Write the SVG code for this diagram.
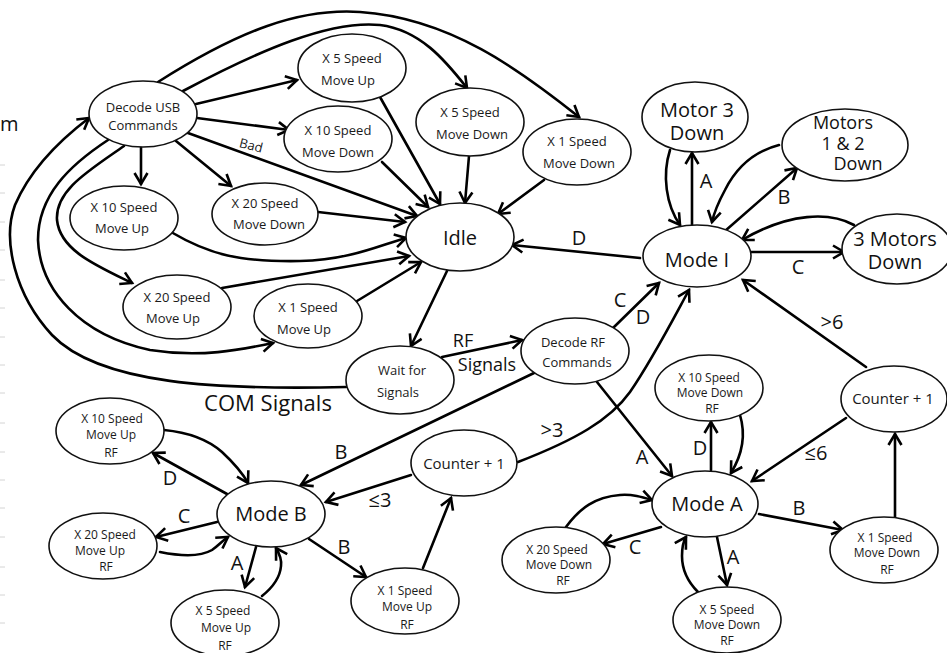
<svg xmlns="http://www.w3.org/2000/svg" width="947" height="653" viewBox="0 0 947 653">
<style>
.n{fill:#fff;stroke:#111;stroke-width:1.6}
.t{font-family:"Open Sans","Noto Sans",sans-serif;font-size:13px;fill:#1a1a1a;text-anchor:middle}
.r{font-family:"Open Sans","Noto Sans",sans-serif;font-size:12px;fill:#1a1a1a;text-anchor:middle}
.m{font-family:"Open Sans","Noto Sans",sans-serif;font-size:20px;fill:#111;text-anchor:middle}
.l{font-family:"Open Sans","Noto Sans",sans-serif;font-size:20px;fill:#111;text-anchor:middle}
.e{fill:none;stroke:#000;stroke-width:2.6;stroke-linecap:round;marker-end:url(#ah)}
.g{stroke:#d4d4d4;stroke-width:1}
</style>
<defs>
<marker id="ah" markerUnits="userSpaceOnUse" viewBox="0 0 16 16" markerWidth="16" markerHeight="16" refX="13" refY="8" orient="auto">
<path d="M2,1.5 L13,8 L2,14.5" fill="none" stroke="#000" stroke-width="2.6"/>
</marker>
</defs>
<rect width="947" height="653" fill="#fff"/>
<g id="edge-marks">
<line class="g" x1="0" y1="165" x2="5" y2="165"/><line class="g" x1="0" y1="193" x2="5" y2="193"/>
<line class="g" x1="0" y1="222" x2="5" y2="222"/><line class="g" x1="0" y1="250" x2="5" y2="250"/>
<line class="g" x1="0" y1="280" x2="5" y2="280"/><line class="g" x1="0" y1="308" x2="5" y2="308"/>
<line class="g" x1="0" y1="337" x2="5" y2="337"/><line class="g" x1="0" y1="365" x2="5" y2="365"/>
<line class="g" x1="0" y1="393" x2="5" y2="393"/><line class="g" x1="0" y1="423" x2="5" y2="423"/>
<line class="g" x1="0" y1="452" x2="5" y2="452"/><line class="g" x1="0" y1="480" x2="5" y2="480"/>
<line class="g" x1="0" y1="508" x2="5" y2="508"/><line class="g" x1="0" y1="537" x2="5" y2="537"/>
<line class="g" x1="0" y1="567" x2="5" y2="567"/><line class="g" x1="0" y1="595" x2="5" y2="595"/>
<line class="g" x1="0" y1="623" x2="5" y2="623"/>
</g>
<text x="0" y="131" class="l" style="text-anchor:start">m</text>
<g id="connectors">
<path class="e" d="M196,104 L297,80"/>
<path class="e" d="M197,118 L289,130"/>
<path class="e" d="M188,133 L417,216"/>
<path class="e" d="M141,147 L141,184"/>
<path class="e" d="M176,141 L231,186"/>
<path class="e" d="M183,91 C260,50 330,20 380,25 C420,30 445,60 467,88"/>
<path class="e" d="M158,82 C240,30 300,8 360,12 C450,18 520,70 579,117"/>
<path class="e" d="M124,146 C90,170 55,190 57,220 C60,250 95,265 132,283"/>
<path class="e" d="M108,140 C70,165 38,195 38,240 C40,290 80,335 150,350 C200,358 240,350 273,343"/>
<path class="e" d="M346,387 C220,390 100,385 52,335 C15,295 2,240 15,205 C30,170 60,140 89,118"/>
<path class="e" d="M380,97 L440,204"/>
<path class="e" d="M382,162 L428,207"/>
<path class="e" d="M469,156 L465,203"/>
<path class="e" d="M544,180 L498,214"/>
<path class="e" d="M318,212 L405,222"/>
<path class="e" d="M171,232 C210,255 240,262 300,261 C350,260 380,245 406,238"/>
<path class="e" d="M222,288 L409,256"/>
<path class="e" d="M357,301 L421,262"/>
<path class="e" d="M640,258 L512,245"/>
<path class="e" d="M447,271 L411,346"/>
<path class="e" d="M442,357 L522,340"/>
<path class="e" d="M692,225 L692,153"/>
<path class="e" d="M670,150 C662,175 666,205 680,225"/>
<path class="e" d="M725,231 L797,168"/>
<path class="e" d="M779,145 C752,152 735,170 725,190 C718,203 714,213 712,222"/>
<path class="e" d="M751,252 L844,252"/>
<path class="e" d="M854,225 C830,212 790,212 742,240"/>
<path class="e" d="M613,328 L659,283"/>
<path class="e" d="M518,462 C575,440 610,420 630,392 C652,360 670,325 689,290"/>
<path class="e" d="M866,367 L743,280"/>
<path class="e" d="M534,373 L301,485"/>
<path class="e" d="M597,382 L672,476"/>
<path class="e" d="M711,470 L711,422"/>
<path class="e" d="M740,415 C746,435 742,455 731,473"/>
<path class="e" d="M846,418 L752,481"/>
<path class="e" d="M895,517 L895,434"/>
<path class="e" d="M759,514 L843,530"/>
<path class="e" d="M661,527 L603,544"/>
<path class="e" d="M566,527 C580,508 595,497 620,495 C632,494 642,497 652,500"/>
<path class="e" d="M717,537 L727,585"/>
<path class="e" d="M698,592 C688,582 682,570 682,556 C682,549 683,542 686,537"/>
<path class="e" d="M227,494 L153,453"/>
<path class="e" d="M164,430 C185,432 205,437 222,452 C236,465 243,474 248,483"/>
<path class="e" d="M217,522 L156,537"/>
<path class="e" d="M160,552 C180,556 200,557 212,550 C218,546 222,541 228,537"/>
<path class="e" d="M256,547 L245,587"/>
<path class="e" d="M262,596 C272,588 280,578 281,566 C282,559 279,553 276,548"/>
<path class="e" d="M309,539 L366,577"/>
<path class="e" d="M423,568 L451,498"/>
<path class="e" d="M411,475 L326,502"/>
</g>
<g id="labels">
<text x="251" y="150" class="t" transform="rotate(14 251 146)">Bad</text>
<text x="579" y="245" class="l">D</text>
<text x="706" y="188" class="l">A</text>
<text x="784" y="204" class="l">B</text>
<text x="798" y="274" class="l">C</text>
<text x="620" y="307" class="l">C</text>
<text x="643" y="324" class="l">D</text>
<text x="832" y="329" class="l">&gt;6</text>
<text x="463" y="347" class="l" style="font-size:18px">RF</text>
<text x="487" y="371" class="l" style="font-size:18px">Signals</text>
<text x="268" y="411" class="l" style="font-size:22px">COM Signals</text>
<text x="341" y="459" class="l">B</text>
<text x="552" y="437" class="l">&gt;3</text>
<text x="642" y="464" class="l">A</text>
<text x="700" y="455" class="l">D</text>
<text x="816" y="460" class="l">≤6</text>
<text x="799" y="515" class="l">B</text>
<text x="635" y="554" class="l">C</text>
<text x="733" y="564" class="l">A</text>
<text x="170" y="485" class="l">D</text>
<text x="184" y="523" class="l">C</text>
<text x="237" y="570" class="l">A</text>
<text x="344" y="554" class="l">B</text>
<text x="380" y="507" class="l">≤3</text>
</g>
<g id="decode-usb"><ellipse class="n" cx="143" cy="114" rx="54" ry="33"/><text class="t" x="143" y="112">Decode USB</text><text class="t" x="143" y="130">Commands</text></g>
<g id="x5-up"><ellipse class="n" cx="352" cy="68" rx="54" ry="34"/><text class="t" x="352" y="63">X 5  Speed</text><text class="t" x="348" y="85">Move Up</text></g>
<g id="x10-down"><ellipse class="n" cx="338" cy="139" rx="54" ry="33"/><text class="t" x="338" y="135">X 10 Speed</text><text class="t" x="338" y="157">Move Down</text></g>
<g id="x5-down"><ellipse class="n" cx="470" cy="122" rx="54" ry="34"/><text class="t" x="470" y="117">X 5  Speed</text><text class="t" x="472" y="139">Move Down</text></g>
<g id="x1-down"><ellipse class="n" cx="577" cy="152" rx="54" ry="33"/><text class="t" x="577" y="146">X 1  Speed</text><text class="t" x="579" y="168">Move Down</text></g>
<g id="x10-up"><ellipse class="n" cx="124" cy="218" rx="54" ry="32"/><text class="t" x="124" y="212">X 10 Speed</text><text class="t" x="122" y="233">Move Up</text></g>
<g id="x20-down"><ellipse class="n" cx="265" cy="214" rx="53" ry="31"/><text class="t" x="265" y="208">X 20 Speed</text><text class="t" x="269" y="229">Move Down</text></g>
<g id="x20-up"><ellipse class="n" cx="177" cy="307" rx="54" ry="32"/><text class="t" x="177" y="302">X 20 Speed</text><text class="t" x="173" y="323">Move Up</text></g>
<g id="x1-up"><ellipse class="n" cx="308" cy="316" rx="54" ry="32"/><text class="t" x="308" y="312">X 1  Speed</text><text class="t" x="304" y="334">Move Up</text></g>
<g id="idle"><ellipse class="n" cx="460" cy="237" rx="54" ry="34"/><text class="m" x="460" y="245">Idle</text></g>
<g id="wait"><ellipse class="n" cx="400" cy="380" rx="54" ry="34"/><text class="t" x="402" y="375">Wait for</text><text class="t" x="398" y="397">Signals</text></g>
<g id="decode-rf"><ellipse class="n" cx="575" cy="351" rx="54" ry="33"/><text class="t" x="573" y="347">Decode  RF</text><text class="t" x="577" y="367">Commands</text></g>
<g id="mode-i"><ellipse class="n" cx="697" cy="256" rx="54" ry="31"/><text class="m" x="697" y="267">Mode I</text></g>
<g id="motor3"><ellipse class="n" cx="695" cy="117" rx="53" ry="35"/><text class="m" x="697" y="117">Motor 3</text><text class="m" x="697" y="140">Down</text></g>
<g id="motors12"><ellipse class="n" cx="845" cy="145" rx="63" ry="36"/><text class="m" x="843" y="129" style="font-size:18px">Motors</text><text class="m" x="843" y="150" style="font-size:18px">1 &amp; 2</text><text class="m" x="858" y="170" style="font-size:18px">Down</text></g>
<g id="motors3"><ellipse class="n" cx="897" cy="249" rx="55" ry="35"/><text class="m" x="895" y="246">3 Motors</text><text class="m" x="895" y="269">Down</text></g>
<g id="counter-l"><ellipse class="n" cx="464" cy="463" rx="53" ry="33"/><text class="t" x="464" y="469" style="font-size:15px">Counter + 1</text></g>
<g id="counter-r"><ellipse class="n" cx="894" cy="399" rx="53" ry="33"/><text class="t" x="893" y="404" style="font-size:15px">Counter + 1</text></g>
<g id="mode-a"><ellipse class="n" cx="705" cy="504" rx="53" ry="33"/><text class="m" x="707" y="511">Mode A</text></g>
<g id="x10-down-rf"><ellipse class="n" cx="709" cy="388" rx="54" ry="33"/><text class="r" x="709" y="382">X 10 Speed</text><text class="r" x="710" y="397">Move Down</text><text class="r" x="712" y="413">RF</text></g>
<g id="x20-down-rf"><ellipse class="n" cx="556" cy="560" rx="54" ry="33"/><text class="r" x="557" y="554">X 20 Speed</text><text class="r" x="559" y="569">Move Down</text><text class="r" x="563" y="585">RF</text></g>
<g id="x5-down-rf"><ellipse class="n" cx="727" cy="620" rx="54" ry="33"/><text class="r" x="727" y="614">X 5  Speed</text><text class="r" x="727" y="629">Move Down</text><text class="r" x="727" y="645">RF</text></g>
<g id="x1-down-rf"><ellipse class="n" cx="884" cy="550" rx="54" ry="33"/><text class="r" x="885" y="542">X 1  Speed</text><text class="r" x="887" y="557">Move Down</text><text class="r" x="887" y="574">RF</text></g>
<g id="mode-b"><ellipse class="n" cx="271" cy="514" rx="54" ry="33"/><text class="m" x="271" y="521">Mode B</text></g>
<g id="x10-up-rf"><ellipse class="n" cx="110" cy="431" rx="54" ry="33"/><text class="r" x="112" y="423">X 10 Speed</text><text class="r" x="111" y="439">Move Up</text><text class="r" x="111" y="457">RF</text></g>
<g id="x20-up-rf"><ellipse class="n" cx="103" cy="546" rx="54" ry="33"/><text class="r" x="105" y="539">X 20 Speed</text><text class="r" x="100" y="555">Move Up</text><text class="r" x="106" y="571">RF</text></g>
<g id="x5-up-rf"><ellipse class="n" cx="225" cy="623" rx="54" ry="33"/><text class="r" x="223" y="615">X 5  Speed</text><text class="r" x="226" y="632">Move Up</text><text class="r" x="225" y="650">RF</text></g>
<g id="x1-up-rf"><ellipse class="n" cx="405" cy="601" rx="54" ry="33"/><text class="r" x="405" y="595">X 1  Speed</text><text class="r" x="407" y="611">Move Up</text><text class="r" x="407" y="629">RF</text></g>
</svg>
